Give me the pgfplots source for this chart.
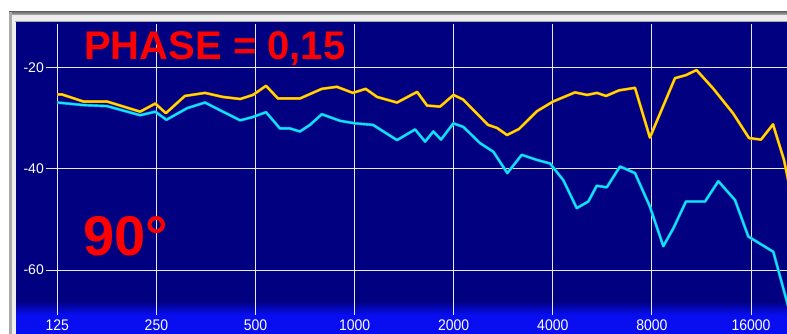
\documentclass[border=0pt]{standalone}
\usepackage{fontspec}
\setmainfont{Liberation Sans}
\usepackage{pgfplots}
\usepackage{pgfplotstable}
\pgfplotsset{compat=1.18}

\definecolor{panel}{RGB}{0,0,128}
\definecolor{band}{RGB}{8,14,240}
\definecolor{gridc}{RGB}{232,232,232}
\definecolor{goldcore}{RGB}{255,220,0}
\definecolor{goldedge}{RGB}{230,120,10}
\definecolor{cyancore}{RGB}{20,228,255}
\definecolor{cyanedge}{RGB}{0,140,215}
\definecolor{framedark}{RGB}{105,105,105}
\definecolor{framemid}{RGB}{170,170,170}
\definecolor{framelight}{RGB}{238,238,238}

% frequency response, yellow trace (Hz, dB)
\pgfplotstableread{
f db
125 -25.4
129 -25.4
150 -26.8
177 -26.8
223 -28.8
248 -27.2
267 -29.1
305 -25.7
351 -25.1
398 -25.9
449 -26.3
491 -25.5
538 -23.7
585 -26.2
682 -26.2
795 -24.3
883 -23.9
988 -25.1
1080 -24.3
1170 -25.9
1345 -27.0
1548 -24.9
1660 -27.6
1818 -27.8
1997 -25.5
2135 -26.4
2542 -31.4
2707 -32.0
2904 -33.4
3158 -32.2
3581 -28.7
4006 -26.8
4671 -25.0
5081 -25.5
5449 -25.1
5804 -25.7
6355 -24.6
7106 -24.1
7888 -33.9
9398 -22.2
10150 -21.6
10925 -20.6
12266 -24.2
14104 -29.1
15780 -34.0
17160 -34.3
18660 -31.3
20150 -38.3
20880 -43.2
}\yellowdata

% frequency response, cyan trace (Hz, dB)
\pgfplotstableread{
f db
125 -27.0
150 -27.5
177 -27.7
223 -29.5
248 -28.8
268 -30.4
310 -28.1
351 -27.0
398 -28.8
449 -30.5
488 -29.9
538 -28.9
593 -32.1
636 -32.1
682 -32.7
732 -31.4
795 -29.3
903 -30.6
1003 -31.1
1137 -31.4
1345 -34.4
1526 -32.3
1637 -34.7
1734 -32.7
1830 -34.3
1995 -31.1
2139 -31.8
2404 -35.0
2639 -36.7
2910 -40.9
3218 -37.3
3575 -38.3
3922 -39.0
4305 -42.3
4728 -47.8
5127 -46.5
5437 -43.4
5833 -43.7
6400 -39.6
7106 -40.9
7888 -47.5
8663 -55.3
9290 -51.8
10150 -46.5
11600 -46.5
12730 -42.5
14300 -46.2
15700 -53.4
18700 -56.4
20580 -66.3
21300 -69.9
}\cyandata

\begin{document}
\begin{tikzpicture}[x=1pt,y=1pt]
% window frame
\fill[white] (0,0) rectangle (787,334);
\fill[framelight] (9,0) rectangle (787,320);
\shade[top color=framedark, bottom color=framemid] (9,319.5) rectangle (787,322.5);
\fill[framemid] (9,0) rectangle (11.5,322);
\fill[framemid] (15,312) rectangle (787,313);
% plot panel and scale band
\fill[panel] (16,0) rectangle (787,312);
\shade[top color=panel, bottom color=band] (16,19) rectangle (787,33);
\fill[band] (16,0) rectangle (787,19);

\begin{axis}[
  at={(16pt,0pt)}, anchor=south west,
  scale only axis, width=771pt, height=312pt,
  xmode=log, log basis x=2,
  xmin=93.6, xmax=20580, ymin=-72.6, ymax=-11.13,
  axis line style={draw=none},
  xtick=\empty, ytick=\empty,
  clip=true,
]
  % grid
  \draw[gridc, line width=0.9pt] (axis cs:125,-68.9) -- (axis cs:125,-11.5);
  \draw[gridc, line width=0.9pt] (axis cs:250,-68.9) -- (axis cs:250,-11.5);
  \draw[gridc, line width=0.9pt] (axis cs:500,-68.9) -- (axis cs:500,-11.5);
  \draw[gridc, line width=0.9pt] (axis cs:1000,-68.9) -- (axis cs:1000,-11.5);
  \draw[gridc, line width=0.9pt] (axis cs:2000,-68.9) -- (axis cs:2000,-11.5);
  \draw[gridc, line width=0.9pt] (axis cs:4000,-68.9) -- (axis cs:4000,-11.5);
  \draw[gridc, line width=0.9pt] (axis cs:8000,-68.9) -- (axis cs:8000,-11.5);
  \draw[gridc, line width=0.9pt] (axis cs:16000,-68.9) -- (axis cs:16000,-11.5);
  \draw[gridc, line width=0.9pt] (axis cs:115.5,-20) -- (axis cs:20580,-20);
  \draw[gridc, line width=0.9pt] (axis cs:115.5,-40) -- (axis cs:20580,-40);
  \draw[gridc, line width=0.9pt] (axis cs:115.5,-60) -- (axis cs:20580,-60);

  % traces
  \addplot[goldedge, line width=2.8pt, line join=round] table[x=f, y=db] {\yellowdata};
  \addplot[goldcore, line width=2.0pt, line join=round] table[x=f, y=db] {\yellowdata};
  \addplot[cyanedge, line width=2.9pt, line join=round] table[x=f, y=db] {\cyandata};
  \addplot[cyancore, line width=1.9pt, line join=round] table[x=f, y=db] {\cyandata};
\end{axis}

% level labels
\foreach \yy/\tt in {266.5/-20, 165/-40, 64/-60}
  \node[anchor=east, inner sep=0, text=white, font=\fontsize{14}{14}\selectfont] at (44,\yy) {\tt};
% frequency labels
\foreach \k/\tt in {0/125, 1/250, 2/500, 3/1000, 4/2000, 5/4000, 6/8000, 7/16000}
  \node[anchor=base, inner sep=0, text=white, font=\fontsize{14}{14}\selectfont] at (57.3+99.1*\k, 3) {\scalebox{1}[1.1]{\tt}};

% annotations
\node[anchor=base west, inner sep=0, text=red, font=\bfseries\fontsize{40}{40}\selectfont] at (84,274) {PHASE = 0,15};
\node[anchor=base west, inner sep=0, text=red, font=\bfseries\fontsize{56}{56}\selectfont] at (83,78) {90°};

\pgfresetboundingbox
\path[use as bounding box] (0,0) rectangle (787,334);
\end{tikzpicture}
\end{document}
